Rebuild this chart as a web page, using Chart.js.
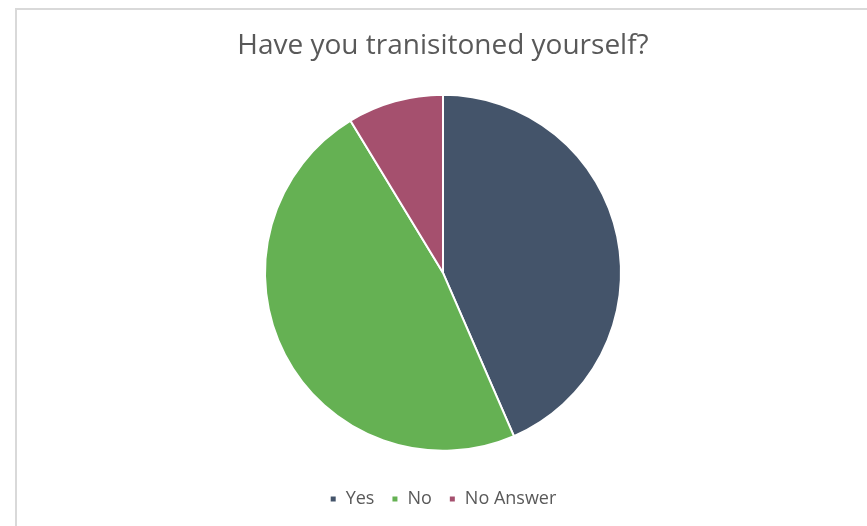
<!DOCTYPE html>
<html>
<head>
<meta charset="utf-8">
<script src="https://cdn.jsdelivr.net/npm/chart.js@4/dist/chart.umd.min.js"></script>
<style>
  html, body { margin: 0; padding: 0; background: #fff; overflow: hidden; }
  #frame {
    position: absolute; left: 15px; top: 8px;
    width: 856px; height: 520px;
    border: 2px solid #d9d9d9; background: #fff;
  }
  #chart { display: block; }
</style>
</head>
<body>
<div id="frame"><canvas id="chart" width="856" height="520"></canvas></div>
<script>
// survey answers
const labels = ['Yes', 'No', 'No Answer'];
const counts = [10, 11, 2];
const colors = ['#44546A', '#65B153', '#A5506E'];
const chart_title = 'Have you tranisitoned yourself?';

const ctx = document.getElementById('chart');
chart = new Chart(ctx, {
  type: 'pie',
  data: {
    labels: labels,
    datasets: [{
      data: counts,
      backgroundColor: colors,
      borderColor: '#ffffff',
      borderWidth: 2,
      radius: 178
    }]
  },
  options: {
    responsive: false,
    animation: false,
    layout: {
      padding: { top: 0, bottom: 12, left: 0, right: 4 }
    },
    plugins: {
      title: {
        display: true,
        text: chart_title,
        color: '#595959',
        font: { family: 'Open Sans', size: 28, weight: 'normal' },
        padding: { top: 19, bottom: 10 }
      },
      legend: {
        position: 'bottom',
        labels: {
          color: '#595959',
          font: { family: 'Open Sans', size: 18 },
          usePointStyle: true,
          pointStyle: 'rect',
          boxWidth: 7,
          boxHeight: 7,
          padding: 17
        }
      },
      tooltip: { enabled: false }
    }
  }
});
</script>
</body>
</html>
